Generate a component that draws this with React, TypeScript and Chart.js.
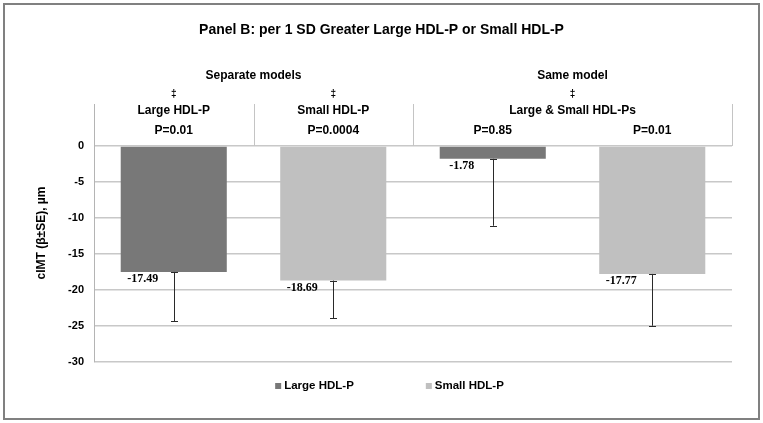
import React, { useEffect, useRef } from "react";
import { Chart, registerables } from "chart.js";

Chart.register(...registerables);

const chartTitle = "Panel B: per 1 SD Greater Large HDL-P or Small HDL-P";
const yAxisTitle = "cIMT (β±SE), µm";
const categories = ["Large HDL-P", "Small HDL-P", "Large HDL-P", "Small HDL-P"];
const groupLabels = ["Separate models", "Same model"];
const headerLabels = ["Large HDL-P", "Small HDL-P", "Large & Small HDL-Ps"];
const pValues = ["P=0.01", "P=0.0004", "P=0.85", "P=0.01"];
const seriesNames = ["Large HDL-P", "Small HDL-P"];
const largeValues = [-17.49, null, -1.78, null];
const smallValues = [null, -18.69, null, -17.77];
const seValues = [6.85, 5.25, 9.3, 7.2];
const yTickValues = [0, -5, -10, -15, -20, -25, -30];

const SANS = "'Liberation Sans', Arial, sans-serif";
const SERIF = "'Liberation Serif', 'Times New Roman', serif";
const DARK = "#787878";
const LIGHT = "#c0c0c0";

const decorPlugin = {
  id: "decor",
  beforeDraw(chart: any) {
    const { ctx, width, height } = chart;
    ctx.save();
    ctx.fillStyle = "#ffffff";
    ctx.fillRect(0, 0, width, height);
    ctx.strokeStyle = "#808080";
    ctx.lineWidth = 2;
    ctx.strokeRect(4, 4, width - 8, height - 8);
    ctx.restore();
  },
  afterDatasetsDraw(chart: any) {
    const { ctx, chartArea } = chart;
    const xs = chart.scales.x;
    const ys = chart.scales.y;
    ctx.save();

    // error bars and value labels
    chart.data.datasets.forEach((ds: any, di: number) => {
      const meta = chart.getDatasetMeta(di);
      meta.data.forEach((bar: any, j: number) => {
        const v = ds.data[j];
        if (v === null || v === undefined) return;
        const yEnd = ys.getPixelForValue(v - seValues[j]);
        const x = Math.round(bar.x) + 0.5;
        ctx.strokeStyle = "#2a2a2a";
        ctx.lineWidth = 1;
        ctx.beginPath();
        ctx.moveTo(x, bar.y);
        ctx.lineTo(x, yEnd);
        ctx.moveTo(x - 3.5, Math.round(yEnd) + 0.5);
        ctx.lineTo(x + 3.5, Math.round(yEnd) + 0.5);
        ctx.moveTo(x - 3.5, Math.round(bar.y) + 0.5);
        ctx.lineTo(x + 3.5, Math.round(bar.y) + 0.5);
        ctx.stroke();

        ctx.fillStyle = "#000";
        ctx.font = `bold 12px ${SERIF}`;
        ctx.textAlign = "center";
        ctx.textBaseline = "top";
        ctx.fillText(v.toFixed(2), bar.x - 31, bar.y + 1);
      });
    });

    // header table
    const px = (i: number) => xs.getPixelForValue(i);
    const b01 = (px(0) + px(1)) / 2;
    const b12 = (px(1) + px(2)) / 2;
    const y0 = ys.getPixelForValue(0);
    ctx.strokeStyle = "#c4c4c4";
    ctx.lineWidth = 1;
    ctx.beginPath();
    [b01, b12, chartArea.right].forEach((bx) => {
      const xx = Math.round(bx) + 0.5;
      ctx.moveTo(xx, chartArea.top);
      ctx.lineTo(xx, y0);
    });
    ctx.stroke();

    ctx.fillStyle = "#000";
    ctx.textAlign = "center";
    ctx.textBaseline = "middle";
    ctx.font = `bold 12px ${SANS}`;
    ctx.fillText(groupLabels[0], (px(0) + px(1)) / 2, 76);
    ctx.fillText(groupLabels[1], (px(2) + px(3)) / 2, 76);
    ctx.font = `bold 10px ${SANS}`;
    const hdrX = [px(0), px(1), (px(2) + px(3)) / 2];
    hdrX.forEach((hx) => ctx.fillText("‡", hx, 94));
    ctx.font = `bold 12px ${SANS}`;
    headerLabels.forEach((t, i) => ctx.fillText(t, hdrX[i], 111));
    pValues.forEach((t, i) => ctx.fillText(t, px(i), 131));

    // title
    ctx.font = `bold 14px ${SANS}`;
    ctx.fillText(chartTitle, chart.width / 2, 30);

    // y axis title
    ctx.save();
    ctx.translate(42, (chartArea.top + chartArea.bottom) / 2);
    ctx.rotate(-Math.PI / 2);
    ctx.font = `bold 12px ${SANS}`;
    ctx.fillText(yAxisTitle, 0, 0);
    ctx.restore();

    // legend
    ctx.font = `bold 11.5px ${SANS}`;
    ctx.textAlign = "left";
    const box = 6;
    const gap = 3;
    const itemGap = 72;
    const widths = seriesNames.map((n) => box + gap + ctx.measureText(n).width);
    const total = widths[0] + itemGap + widths[1];
    let lx = chart.width / 2 + 8 - total / 2;
    const ly = 386;
    chart.data.datasets.forEach((ds: any, i: number) => {
      ctx.fillStyle = ds.backgroundColor;
      ctx.fillRect(lx, ly - box / 2, box, box);
      ctx.fillStyle = "#000";
      ctx.fillText(ds.label, lx + box + gap, ly);
      lx += widths[i] + itemGap;
    });

    ctx.restore();
  },
};

export default function App() {
  const ref = useRef<HTMLCanvasElement>(null);
  useEffect(() => {
    document.body.style.margin = "0";
    const chart = new Chart(ref.current!, {
      type: "bar",
      data: {
        labels: categories,
        datasets: [
          { label: seriesNames[0], data: largeValues, backgroundColor: DARK, grouped: false, barPercentage: 0.665, categoryPercentage: 1 } as any,
          { label: seriesNames[1], data: smallValues, backgroundColor: LIGHT, grouped: false, barPercentage: 0.665, categoryPercentage: 1 } as any,
        ],
      },
      options: {
        animation: false,
        responsive: true,
        maintainAspectRatio: false,
        layout: { padding: { top: 104, right: 31, bottom: 61, left: 0 } },
        plugins: { legend: { display: false }, title: { display: false }, tooltip: { enabled: false } },
        scales: {
          x: { display: false },
          y: {
            min: -30,
            max: 5.83,
            afterBuildTicks: (s: any) => {
              s.ticks = yTickValues.map((v) => ({ value: v }));
            },
            afterFit: (s: any) => {
              s.width = 94;
            },
            grid: { color: "#c8c8c8", lineWidth: 1.5, drawTicks: false },
            border: { display: true, color: "#b4b4b4", width: 1 },
            ticks: { padding: 10, color: "#000", font: { family: SANS, size: 11, weight: "bold" } },
          },
        },
      },
      plugins: [decorPlugin],
    });
    return () => chart.destroy();
  }, []);
  return (
    <div style={{ width: 763, height: 423, position: "relative" }}>
      <canvas ref={ref} />
    </div>
  );
}
